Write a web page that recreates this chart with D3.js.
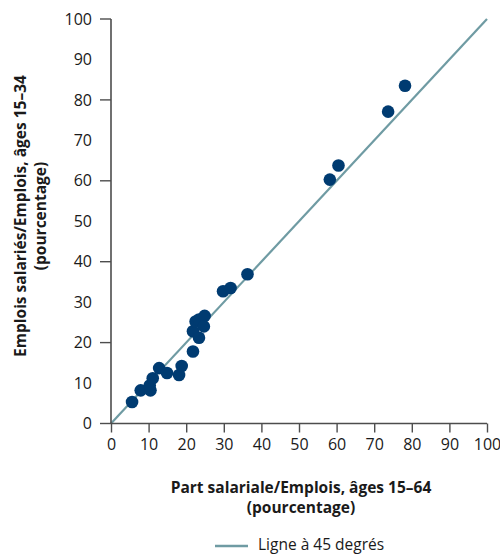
<!DOCTYPE html>
<html>
<head>
<meta charset="utf-8">
<script src="https://d3js.org/d3.v7.min.js"></script>
<style>
  body { margin: 0; background: #fff; }
  text { font-family: "Open Sans", "Noto Sans", sans-serif; fill: #1a1a1a; }
</style>
</head>
<body>
<svg id="chart" width="500" height="555"></svg>
<script>
// wage share, ages 15-64 (x) vs wage share, ages 15-34 (y)
var xVals = [5.6, 7.9, 10.5, 10.3, 11.1, 12.8, 14.9, 18.1, 18.8, 21.8, 21.8, 23.4, 22.5, 23.4, 24.9, 24.7, 29.8, 31.8, 36.3, 58.2, 60.5, 73.7, 78.2];
var yVals = [5.3, 8.2, 8.2, 9.4, 11.2, 13.7, 12.5, 12.0, 14.2, 17.8, 22.8, 21.2, 25.2, 25.7, 26.6, 24.0, 32.7, 33.5, 36.9, 60.3, 63.8, 77.1, 83.5];
var tickVals = [0, 10, 20, 30, 40, 50, 60, 70, 80, 90, 100];
var yTickMarks = [0, 20, 40, 60, 80, 100];
var refLine = [0, 100];

var svg = d3.select("#chart");
var x = d3.scaleLinear().domain([0, 100]).range([111, 487]);
var y = d3.scaleLinear().domain([0, 100]).range([423.5, 19]);
var axisColor = "#4d4d4d";

// 45 degree line
svg.append("line")
  .attr("x1", x(refLine[0])).attr("y1", y(refLine[0]))
  .attr("x2", x(refLine[1])).attr("y2", y(refLine[1]))
  .attr("stroke", "#6f9ba3").attr("stroke-width", 2.2);

// x axis
var gx = svg.append("g").attr("transform", "translate(0," + y(0) + ")")
  .call(d3.axisBottom(x).tickValues(tickVals).tickSize(9).tickSizeOuter(0).tickPadding(6));
gx.select(".domain").attr("stroke", axisColor).attr("stroke-width", 1.6)
  .attr("d", "M" + x(0) + ",0H" + x(100));
gx.selectAll(".tick line").attr("stroke", axisColor).attr("stroke-width", 1.4);
gx.selectAll(".tick text").attr("font-size", 16).attr("fill", "#1a1a1a")
  .style("font-family", "'Open Sans', sans-serif");

// y axis: labels every 10, marks every 20
var gy = svg.append("g").attr("transform", "translate(" + x(0) + ",0)")
  .call(d3.axisLeft(y).tickValues(tickVals).tickSize(0).tickSizeOuter(0).tickPadding(19));
gy.select(".domain").attr("stroke", axisColor).attr("stroke-width", 1.6)
  .attr("d", "M0," + y(0) + "V" + y(100));
gy.selectAll(".tick text").attr("font-size", 16).attr("fill", "#1a1a1a")
  .style("font-family", "'Open Sans', sans-serif");
gy.selectAll(".marks").data(yTickMarks).enter().append("line")
  .attr("x1", -11).attr("x2", 0)
  .attr("y1", function(d) { return y(d); }).attr("y2", function(d) { return y(d); })
  .attr("stroke", axisColor).attr("stroke-width", 1.4);

// points
svg.selectAll("circle.pt").data(xVals).enter().append("circle")
  .attr("class", "pt")
  .attr("cx", function(d) { return x(d); })
  .attr("cy", function(d, i) { return y(yVals[i]); })
  .attr("r", 6.3)
  .attr("fill", "#003b71");

// axis titles
var xt = svg.append("text").attr("text-anchor", "middle")
  .attr("font-size", 15.5).attr("font-weight", "bold");
xt.append("tspan").attr("x", 301).attr("y", 493).text("Part salariale/Emplois, âges 15–64");
xt.append("tspan").attr("x", 301).attr("y", 513).text("(pourcentage)");

var yt = svg.append("text").attr("text-anchor", "middle")
  .attr("font-size", 15.5).attr("font-weight", "bold")
  .attr("transform", "translate(0,216) rotate(-90)");
yt.append("tspan").attr("x", 0).attr("y", 26).text("Emplois salariés/Emplois, âges 15–34");
yt.append("tspan").attr("x", 0).attr("y", 46).text("(pourcentage)");

// legend
svg.append("line").attr("x1", 215).attr("x2", 248).attr("y1", 546).attr("y2", 546)
  .attr("stroke", "#6f9ba3").attr("stroke-width", 2.5);
svg.append("text").attr("x", 258).attr("y", 550).attr("font-size", 15.5)
  .text("Ligne à 45 degrés");
</script>
</body>
</html>
